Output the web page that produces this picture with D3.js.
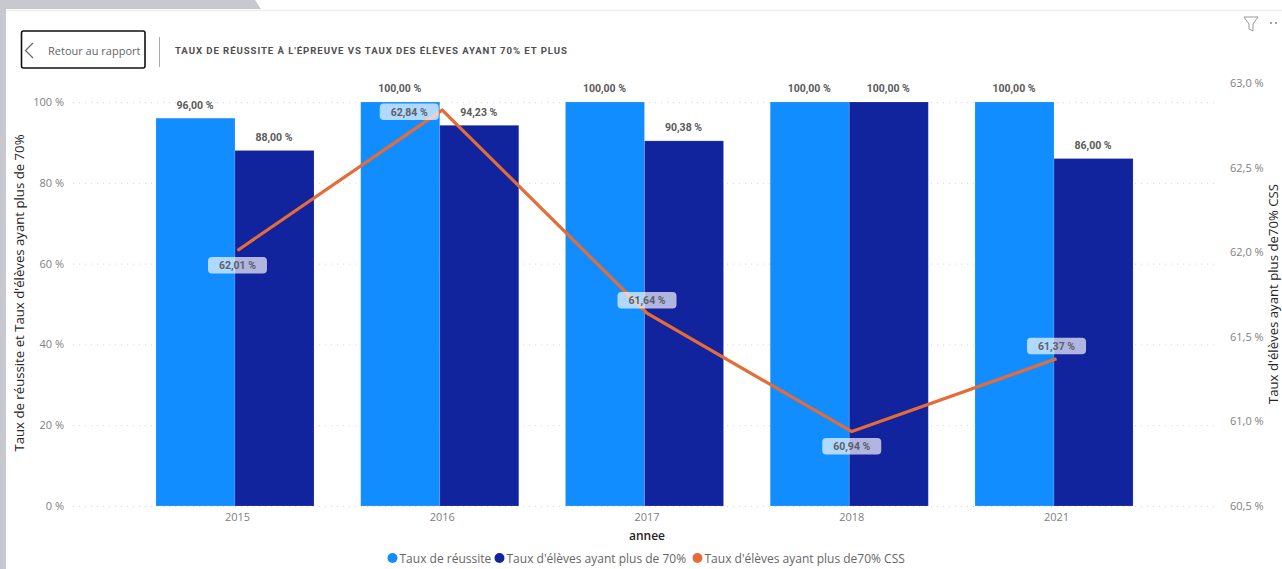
<!DOCTYPE html>
<html lang="fr"><head><meta charset="utf-8">
<script src="https://cdn.jsdelivr.net/npm/d3@7"></script>
<style>html,body{margin:0;padding:0;background:#fff;overflow:hidden}svg{display:block}</style>
</head><body><svg id="c" width="1282" height="569"></svg>
<script>
const categories=["2015","2016","2017","2018","2021"];
const tauxReussite=[96,100,100,100,100];
const tauxEleves=[88,94.23,90.38,100,86];
const tauxCSS=[62.01,62.84,61.64,60.94,61.37];
const leftTicks=[0,20,40,60,80,100];
const rightTicks=[60.5,61,61.5,62,62.5,63];
const cssLabelPlacement=["below","belowLeft","above","below","above"];
const legendItems=["Taux de réussite","Taux d'élèves ayant plus de 70%","Taux d'élèves ayant plus de70% CSS"];
const colors=["#118DFF","#12239E","#E66C37"];
const fr=d3.formatLocale({decimal:",",thousands:" ",grouping:[3],currency:["","€"]});
const f2=v=>fr.format(".2f")(v)+" %", f1=v=>fr.format(".1f")(v)+" %";

const svg=d3.select("#c");
const sans="'Open Sans',sans-serif", bold="Roboto,sans-serif";
// page chrome
svg.append("path").attr("d","M0 0H255L261 9H6V569H0Z").attr("fill","#c8c9ce");
svg.append("line").attr("x1",6).attr("x2",1282).attr("y1",10.5).attr("y2",10.5).attr("stroke","#eeeeee").attr("stroke-width",1.5);
svg.append("rect").attr("x",21.5).attr("y",31).attr("width",123.5).attr("height",37).attr("rx",2).attr("fill","#fff").attr("stroke","#111").attr("stroke-width",1.6);
svg.append("path").attr("d","M33 43L25.500 50.500L33 58").attr("fill","none").attr("stroke","#666").attr("stroke-width",1.2);
svg.append("text").attr("x",48).attr("y",54.5).attr("font-family",sans).attr("font-size",11).attr("fill","#666").text("Retour au rapport");
svg.append("line").attr("x1",159.500).attr("x2",159.500).attr("y1",37).attr("y2",67).attr("stroke","#aaa");
svg.append("text").attr("x",175).attr("y",54).attr("font-family",bold).attr("font-weight",700).attr("font-size",9.6).attr("letter-spacing",0.93).attr("fill","#505050").text("TAUX DE RÉUSSITE À L'ÉPREUVE VS TAUX DES ÉLÈVES AYANT 70% ET PLUS");
svg.append("path").attr("d","M1244 17H1258L1253 24V31L1249 29V24Z").attr("fill","none").attr("stroke","#999").attr("stroke-width",1);
svg.selectAll(".dot").data([1271,1276]).join("circle").attr("cx",d=>d).attr("cy",23).attr("r",0.9).attr("fill","#777");

// scales
const x=d3.scaleBand().domain(categories).range([132.6,1156.4]).paddingInner(0.228).paddingOuter(0.114);
const y=d3.scaleLinear().domain([0,100]).range([506,102]);
const yR=d3.scaleLinear().domain([60.5,63]).range([506,83]);
const x1=d3.scaleBand().domain([0,1]).range([0,x.bandwidth()]);
const centerShift=2.5; // the category centre sits slightly right of the bar seam

// left axis + gridlines
const gL=svg.append("g").attr("transform","translate(73,0)").call(d3.axisLeft(y).tickValues(leftTicks).tickSize(-1145).tickPadding(9).tickFormat(d=>d+" %"));
gL.select(".domain").remove();
gL.selectAll("line").attr("stroke","#d4d4d4").attr("stroke-dasharray","1 5");
gL.selectAll("text").attr("font-family",sans).attr("font-size",11).attr("fill","#808080");
// right axis
const gR=svg.append("g").attr("transform","translate(1222,0)").call(d3.axisRight(yR).tickValues(rightTicks).tickSize(0).tickPadding(8).tickFormat(f1));
gR.select(".domain").remove();
gR.selectAll("text").attr("font-family",sans).attr("font-size",11).attr("fill","#808080");
// x axis
const gX=svg.append("g").attr("transform",`translate(${centerShift},506)`).call(d3.axisBottom(x).tickSize(0).tickPadding(7));
gX.select(".domain").remove();
gX.selectAll("text").attr("font-family",sans).attr("font-size",11).attr("fill","#808080");

// bars
[tauxReussite,tauxEleves].forEach((vals,s)=>{
  svg.append("g").selectAll("rect").data(vals).join("rect")
   .attr("x",(d,i)=>x(categories[i])+x1(s)).attr("width",x1.bandwidth())
   .attr("y",d=>y(d)).attr("height",d=>y(0)-y(d)).attr("fill",colors[s])
   .attr("stroke","#fff").attr("stroke-opacity",0.14).attr("stroke-width",1);
  svg.append("g").selectAll("text").data(vals).join("text")
   .attr("x",(d,i)=>x(categories[i])+x1(s)+x1.bandwidth()/2-0.5)
   .attr("y",d=>y(d)-(d===100?10:9.500)).attr("text-anchor","middle")
   .attr("font-family",bold).attr("font-weight",700).attr("font-size",10.5).attr("fill","#5a5a5a").text(f2);
});

// line
const cx=i=>x(categories[i])+x.bandwidth()/2+centerShift;
svg.append("path").datum(tauxCSS)
 .attr("d",d3.line().x((d,i)=>cx(i)).y(d=>yR(d)))
 .attr("fill","none").attr("stroke",colors[2]).attr("stroke-width",3.2);

// line labels
const lw=59,lh=16.500;
const lab=svg.append("g").selectAll("g").data(tauxCSS).join("g").attr("transform",(d,i)=>{
  const p=cssLabelPlacement[i];
  const dx=p==="belowLeft"?-33:0;
  const dy=p==="above"?-21:(p==="belowLeft"?-6.5:6.5);
  return `translate(${cx(i)+dx},${yR(d)+dy})`;
});
lab.append("rect").attr("x",-lw/2).attr("y",0).attr("width",lw).attr("height",lh).attr("rx",4).attr("fill","#fff").attr("fill-opacity",0.67);
lab.append("text").attr("y",12.2).attr("text-anchor","middle").attr("font-family",bold).attr("font-weight",700).attr("font-size",10.5).attr("fill","#5f6066").text(f2);

// axis titles
const title=(t,tx,ty,rot,size,w)=>svg.append("text").attr("transform",`translate(${tx},${ty}) rotate(${rot})`).attr("text-anchor","middle")
 .attr("font-family",sans).attr("font-size",size).attr("font-weight",w).attr("fill","#252423").text(t);
title("Taux de réussite et Taux d'élèves ayant plus de 70%",24,293,-90,13.2,400);
title("Taux d'élèves ayant plus de70% CSS",1278,294,-90,13.2,400);
title("annee",647,540,0,12,600);

// legend
const legendX=[392.5,499.500,697.500];
const lg=svg.append("g").selectAll("g").data(legendItems).join("g").attr("transform",(d,i)=>`translate(${legendX[i]},558)`);
lg.append("circle").attr("r",5).attr("fill",(d,i)=>colors[i]);
lg.append("text").attr("x",7).attr("y",4.5).attr("font-family",sans).attr("font-size",12).attr("fill","#666").text(d=>d);
</script></body></html>
